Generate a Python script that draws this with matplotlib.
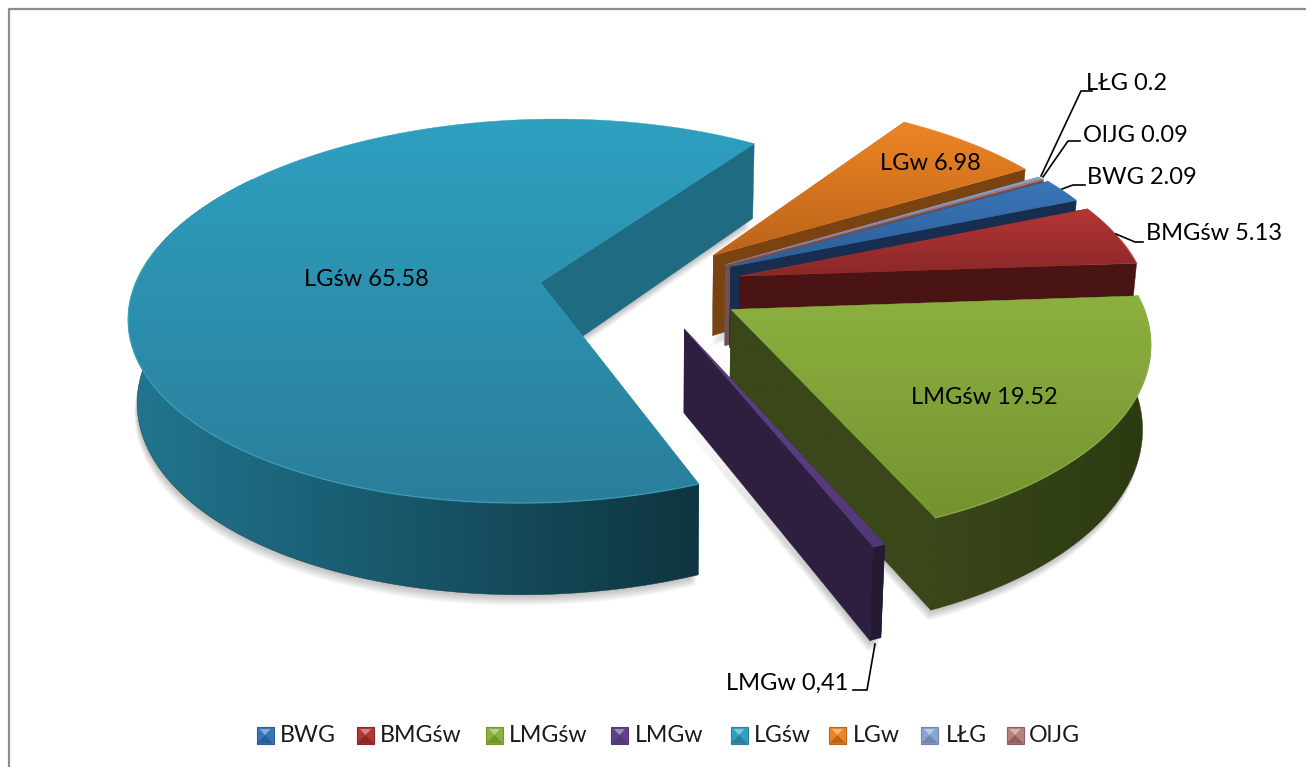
import numpy as np
import matplotlib
matplotlib.use("Agg")
import matplotlib.pyplot as plt
from matplotlib.colors import LinearSegmentedColormap, to_rgb
from matplotlib.patches import Polygon

# data
NAMES = ["BWG", "BMGśw", "LMGśw", "LMGw", "LGśw", "LGw", "LŁG", "OlJG"]
VALUES = [2.09, 5.13, 19.52, 0.41, 65.58, 6.98, 0.2, 0.09]
LABELS = ["BWG 2.09", "BMGśw 5.13", "LMGśw 19.52", "LMGw 0,41", "LGśw 65.58",
          "LGw 6.98", "LŁG 0.2", "OlJG 0.09"]

# style per slice: top start/end, wall, rim start/end
TOP0 = ["#3a75b8", "#b53636", "#8cb040", "#5f4288", "#2ea0c0", "#ee8524", "#8aa6d0", "#b98080"]
TOP1 = ["#2c5e98", "#8a2728", "#74932f", "#523878", "#2a7e9a", "#bb641b", "#6f88b0", "#8e6060"]
WALL = ["#172e50", "#4a1314", "#3a4719", "#2e1f40", "#1f6c82", "#7a4311", "#4f6485", "#735052"]
RIM0 = ["#172e50", "#4a1314", "#3a4719", "#241a33", "#217690", "#7a4311", "#4f6485", "#735052"]
RIM1 = ["#172e50", "#4a1314", "#2c3a12", "#241a33", "#0e3540", "#7a4311", "#4f6485", "#735052"]
EXPLODE = [0.205, 0.20, 0.195, 0.20, 0.298, 0.20, 0.20, 0.20]
# small extra shift of each slice, right / towards the viewer
SHIFT_U = [-0.012, -0.001, 0.0, -0.025, -0.004, -0.015, -0.012, -0.012]
SHIFT_V = [-0.035, -0.028, 0.0, 0.015, -0.01, -0.05, -0.035, -0.035]
DRAW_ORDER = [4, 5, 6, 7, 0, 1, 2, 3]

START_ANGLE = 60.0
X0, Y0 = 662.0, 290.0
A, B, K = 407.0, 190.0, 0.15
HEIGHT, HEIGHT_K = 82.0, 0.11
SHRINK = 0.983
W, H = 1306, 767


def project(u, v, low=False):
    # u to the right, v towards the viewer, low = bottom of the pie
    d = 1 - K * v
    x = A * u / d
    y = Y0 + B * v / d
    if low:
        return X0 + x * SHRINK, y + HEIGHT / (1 - HEIGHT_K * v)
    return X0 + x, y


def lighter(col, f):
    r = np.array(to_rgb(col))
    return tuple(r + (1 - r) * f)


def grad_fill(ax, xs, ys, c0, c1, horizontal=False, z=1):
    pts = np.column_stack([xs, ys])
    cmap = LinearSegmentedColormap.from_list("g", [c0, c1])
    grad = np.linspace(0, 1, 256)
    grad = grad.reshape(1, -1) if horizontal else grad.reshape(-1, 1)
    ext = [xs.min(), xs.max(), ys.max(), ys.min()]
    if ext[0] == ext[1] or ext[2] == ext[3]:
        return
    im = ax.imshow(grad, cmap=cmap, extent=ext, aspect="auto", zorder=z,
                   interpolation="bilinear", vmin=0, vmax=1)
    patch = Polygon(pts, closed=True, transform=ax.transData)
    im.set_clip_path(patch)
    # thin edge so neighbouring faces do not leave a seam
    ax.add_patch(Polygon(pts, closed=True, fill=False, lw=0.3,
                         edgecolor=c1 if horizontal else c0, zorder=z))


fig = plt.figure(figsize=(W / 100, H / 100), dpi=100)
ax = fig.add_axes([0, 0, 1, 1])
plt.rcParams["font.family"] = ["Lato", "DejaVu Sans"]

angles = np.cumsum([0] + VALUES) / sum(VALUES) * 360 + START_ANGLE

z = 2
for i in DRAW_ORDER:
    t0, t1 = np.radians(angles[i]), np.radians(angles[i + 1])
    mid = (t0 + t1) / 2
    cu = EXPLODE[i] * np.sin(mid) + SHIFT_U[i]
    cv = -EXPLODE[i] * np.cos(mid) + SHIFT_V[i]
    t = np.linspace(t0, t1, max(int(np.degrees(t1 - t0)) * 2, 4))
    u = cu + np.sin(t)
    v = cv - np.cos(t)
    tx, ty = project(u, v)
    bx, by = project(u, v, low=True)
    ax_, ay_ = project(cu, cv)
    lx, ly = project(cu, cv, low=True)

    # soft shadow under the slice
    sx = np.concatenate([[lx], bx])
    sy = np.concatenate([[ly], by])
    for d in range(1, 12):
        ax.add_patch(Polygon(np.column_stack([sx - d * 0.25, sy + d]), closed=True,
                             facecolor="#000000", edgecolor="none", alpha=0.022, zorder=1))

    # radial walls, rim, then top
    grad_fill(ax, np.array([ax_, tx[-1], bx[-1], lx]), np.array([ay_, ty[-1], by[-1], ly]),
              WALL[i], WALL[i], z=z)
    grad_fill(ax, np.array([ax_, tx[0], bx[0], lx]), np.array([ay_, ty[0], by[0], ly]),
              WALL[i], WALL[i], z=z + 0.1)
    # only the part of the rim that faces the viewer
    front = ((np.sin(t) < 0) & (np.cos(t) < 0.6)) | ((np.sin(t) >= 0) & (np.cos(t) < 0.05))
    if front.any():
        rx = np.concatenate([tx[front], bx[front][::-1]])
        ry = np.concatenate([ty[front], by[front][::-1]])
        grad_fill(ax, rx, ry, RIM0[i], RIM1[i], horizontal=True, z=z + 0.2)
    grad_fill(ax, np.concatenate([[ax_], tx]), np.concatenate([[ay_], ty]),
              TOP0[i], TOP1[i], z=z + 0.3)
    edge = np.cos(t) < 0.2
    if edge.sum() > 4:
        ax.plot(tx[edge], ty[edge], color=lighter(TOP0[i], 0.1), lw=1.0, alpha=0.6, zorder=z + 0.4)
    z += 1

# slice labels
LABEL_POS = [(1142, 178), (1214, 234), (984, 397), (787, 683), (366, 280),
             (930, 163), (1127, 84), (1135, 136)]
for text, (x, y) in zip(LABELS, LABEL_POS):
    ax.text(x, y, text, fontsize=17, ha="center", va="center", color="black", zorder=30)

# leader lines
LEADERS = [
    ([1062, 1073, 1085], [189, 185, 185]),
    ([1116, 1135, 1143], [234, 242, 242]),
    ([875, 867, 853], [644, 690, 690]),
    ([1041, 1081, 1092], [176, 91, 91]),
    ([1043, 1068, 1080], [177, 141, 141]),
]
for lx, ly in LEADERS:
    ax.plot(lx, ly, color="black", lw=1.2, zorder=29)

# legend
SWATCH_X = [265, 365.5, 494.5, 619.5, 739, 837.5, 929.5, 1015]
TEXT_X = [280, 380, 509, 635, 754, 853, 946, 1029]
LEG_Y = 735
S = 8.5
for i, name in enumerate(NAMES):
    x = SWATCH_X[i]
    c = (x, LEG_Y)
    tl, tr = (x - S, LEG_Y - S), (x + S, LEG_Y - S)
    bl, br = (x - S, LEG_Y + S), (x + S, LEG_Y + S)
    ax.add_patch(Polygon([tl, tr, br, bl], facecolor=TOP0[i], edgecolor=TOP1[i], lw=0.8, zorder=20))
    ax.add_patch(Polygon([bl, br, c], facecolor=TOP1[i], edgecolor="none", zorder=21))
    ax.add_patch(Polygon([(x - S * 0.65, LEG_Y - S * 0.7), (x + S * 0.65, LEG_Y - S * 0.7), c],
                         facecolor=lighter(TOP0[i], 0.4), edgecolor="none", zorder=21))
    ax.text(TEXT_X[i], LEG_Y, name, fontsize=16.7, ha="left", va="center", color="#1a1a1a", zorder=30)

# chart border, left and top only
ax.plot([9, 9, 1306], [767, 9, 9], color="#8c8c8c", lw=1.6, zorder=40)

ax.set_xlim(0, W)
ax.set_ylim(H, 0)
ax.axis("off")
fig.savefig("out.png", dpi=100, facecolor="white")
